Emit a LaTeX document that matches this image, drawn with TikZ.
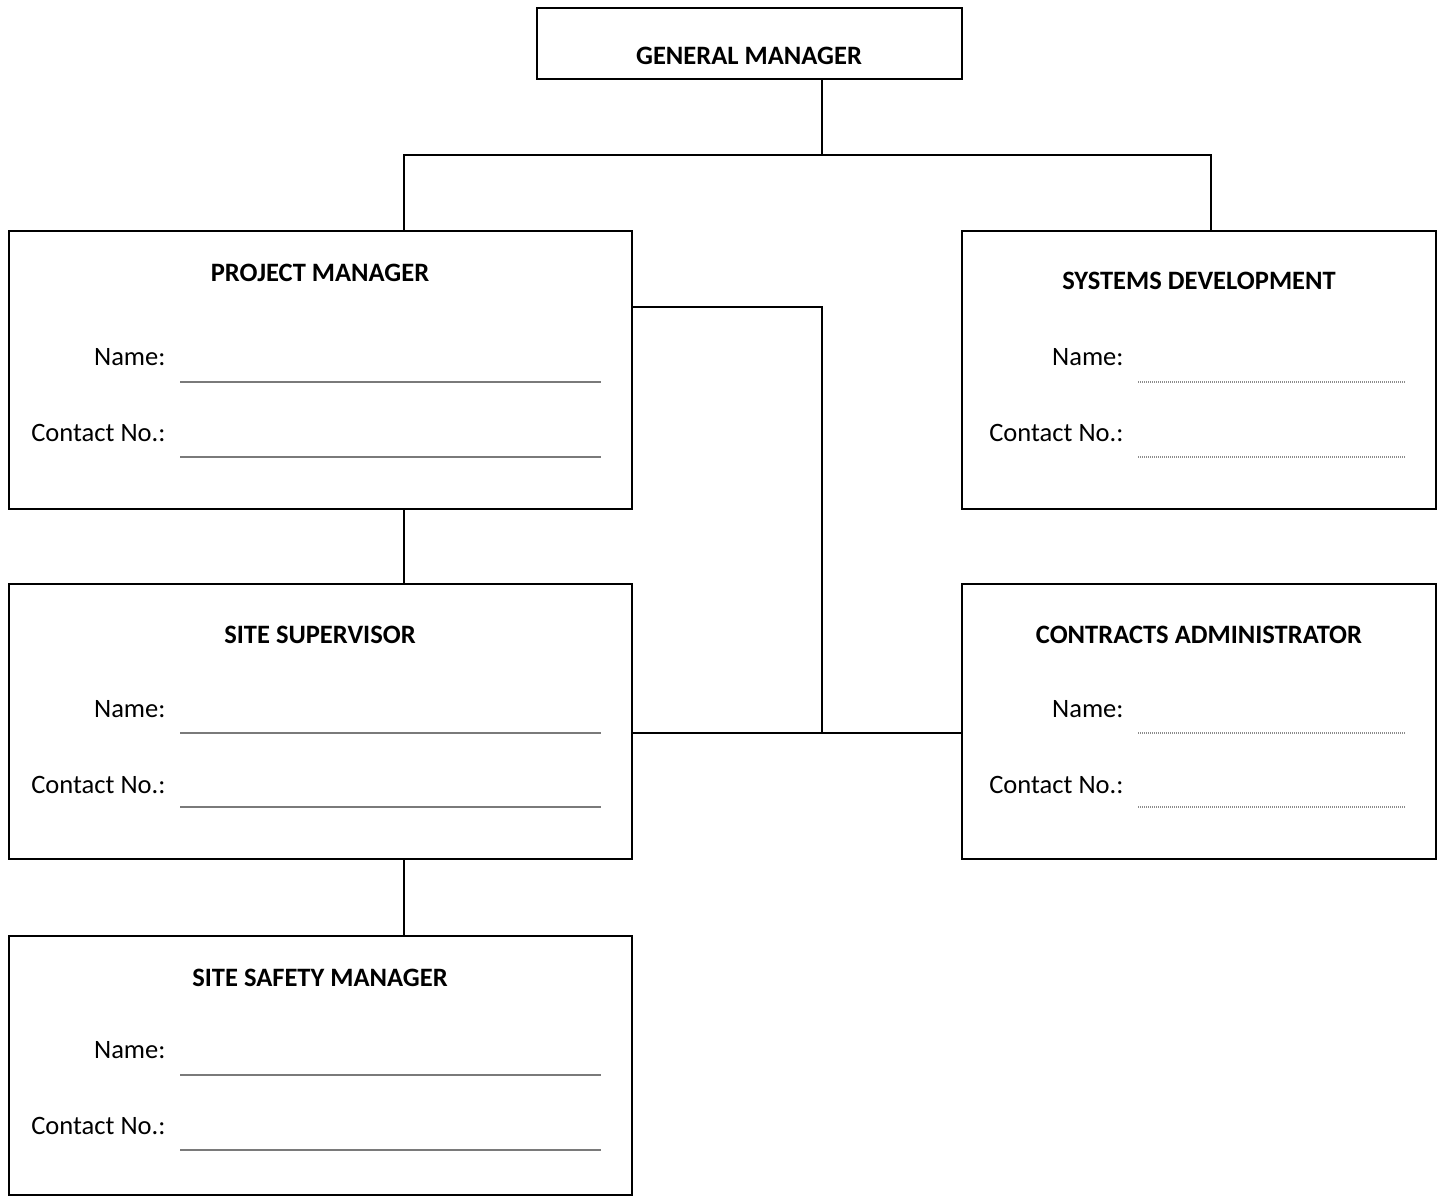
\documentclass[tikz,border=0pt]{standalone}
\usepackage{fontspec}
\setmainfont{Carlito}
\usepackage{tikz}
\usetikzlibrary{positioning,calc,fit}
\definecolor{RuleGray}{HTML}{7A7A7A}
\definecolor{DotGray}{HTML}{8C8C8C}

\begin{document}
\begin{tikzpicture}[
    x=0.375pt, y=-0.375pt,
    orgbox/.style={draw=black, line width=0.5pt, inner sep=0pt, rectangle},
    title/.style={font=\bfseries\fontsize{9.95pt}{12pt}\selectfont, inner sep=0pt},
    field/.style={font=\fontsize{9.95pt}{12pt}\selectfont, inner sep=0pt, anchor=east},
    link/.style={draw=black, line width=0.5pt},
    rule/.style={draw=RuleGray, line width=0.45pt},
    dotrule/.style={draw=DotGray, line width=0.4pt, dash pattern=on 0.4pt off 0.35pt}
  ]
    \useasboundingbox (0,0) rectangle (1443,1201);

    % boxes
    \node[orgbox, fit={(537,8) (962,79)}] (gm) {};
    \node[orgbox, fit={(9,231) (632,509)}] (pm) {};
    \node[orgbox, fit={(962,231) (1436,509)}] (sd) {};
    \node[orgbox, fit={(9,584) (632,859)}] (ss) {};
    \node[orgbox, fit={(962,584) (1436,859)}] (ca) {};
    \node[orgbox, fit={(9,936) (632,1195)}] (sf) {};

    % titles
    \node[title] (gmtitle) at (749,56) {GENERAL MANAGER};
    \node[title] (pmtitle) at (320,273) {PROJECT MANAGER};
    \node[title] (sdtitle) at (1199,281) {SYSTEMS DEVELOPMENT};
    \node[title] (sstitle) at (320,635) {SITE SUPERVISOR};
    \node[title] (catitle) at (1199,635) {CONTRACTS ADMINISTRATOR};
    \node[title] (sftitle) at (320,978) {SITE SAFETY MANAGER};

    % project manager fields
    \node[field] (pmname) at (166,357) {Name:};
    \node[field] (pmcontact) at (166,433) {Contact No.:};
    \draw[rule] (180,382) -- (601,382);
    \draw[rule] (180,457) -- (601,457);

    % systems development fields
    \node[field] (sdname) at (1124,357) {Name:};
    \node[field] (sdcontact) at (1124,433) {Contact No.:};
    \draw[dotrule] (1138,382) -- (1405,382);
    \draw[dotrule] (1138,457) -- (1405,457);

    % site supervisor fields
    \node[field] (ssname) at (166,709) {Name:};
    \node[field] (sscontact) at (166,785) {Contact No.:};
    \draw[rule] (180,733) -- (601,733);
    \draw[rule] (180,807) -- (601,807);

    % contracts administrator fields
    \node[field] (caname) at (1124,709) {Name:};
    \node[field] (cacontact) at (1124,785) {Contact No.:};
    \draw[dotrule] (1138,733) -- (1405,733);
    \draw[dotrule] (1138,807) -- (1405,807);

    % site safety manager fields
    \node[field] (sfname) at (166,1050) {Name:};
    \node[field] (sfcontact) at (166,1126) {Contact No.:};
    \draw[rule] (180,1075) -- (601,1075);
    \draw[rule] (180,1150) -- (601,1150);

    % connectors
    \coordinate (split) at (822,155);
    \coordinate (join) at (822,733);
    \draw[link] (gm.south -| split) -- (split);
    \draw[link] (pm.north -| 404,0) |- (split) -| (sd.north -| 1211,0);
    \draw[link] (pm.south -| 404,0) -- (ss.north -| 404,0);
    \draw[link] (ss.south -| 404,0) -- (sf.north -| 404,0);
    \draw[link] (pm.east |- 0,307) -| (join);
    \draw[link] (ss.east |- join) -- (ca.west |- join);
  \end{tikzpicture}
\end{document}
